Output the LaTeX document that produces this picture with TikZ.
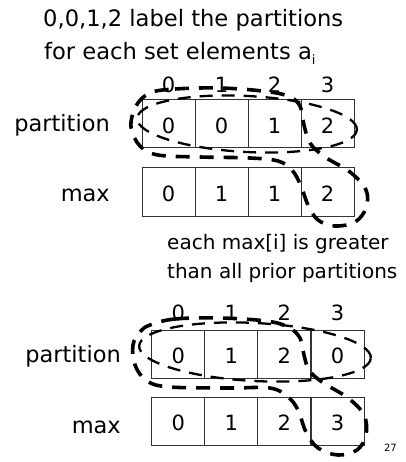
\documentclass[tikz,border=0pt]{standalone}
\usepackage{fontspec}
\setmainfont{DejaVu Sans}
\begin{document}
\begin{tikzpicture}
\useasboundingbox (0,0) rectangle (405pt,-462pt);
\begin{scope}[x=1pt,y=-1pt]
\tikzset{
  cell/.style={draw=black!80, line width=1pt, minimum width=53pt, minimum height=48pt, inner sep=0pt, text height=19pt, text depth=0pt, font=\fontsize{21}{21}\selectfont},
  idx/.style={anchor=base, inner sep=0pt, font=\fontsize{21}{21}\selectfont},
  rowlabel/.style={anchor=base east, inner sep=0pt, font=\fontsize{22.5}{22.5}\selectfont},
  title/.style={anchor=base west, inner sep=0pt, font=\fontsize{22.6}{22.6}\selectfont},
  note/.style={anchor=base west, inner sep=0pt, font=\fontsize{20}{20}\selectfont},
  thickdash/.style={line width=3.6pt, dash pattern=on 14pt off 10pt},
  thindash/.style={line width=2.3pt, dash pattern=on 13pt off 9pt}
}
% title
\node[title] (t1) at (43,27) {0,0,1,2 label the partitions};
\node[title] (t2) at (44,60) {for each set elements a\raisebox{-5pt}{\fontsize{13}{13}\selectfont i}};

% top example
\foreach \i/\x/\p/\m in {0/168.5/0/0, 1/221.5/0/1, 2/274.5/1/1, 3/327.5/2/2}{
  \node[idx] (ia\i) at (\x,93) {\i};
  \node[cell] (pa\i) at (\x,124) {\p};
  \node[cell] (ma\i) at (\x,192) {\m};
}
\node[rowlabel] (lpa) at (110,132) {partition};
\node[rowlabel] (lma) at (110,201.5) {max};
\node[note] (n1) at (167,249) {each max[i] is greater};
\node[note] (n2) at (167,278) {than all prior partitions};

\draw[thindash, rotate around={-3:(247,124)}] (247,124) ellipse [x radius=110pt, y radius=28pt];
\draw[thickdash] plot[smooth cycle, tension=0.6] coordinates {
 (150,93) (175,89) (220,88) (262,91) (288,96) (300,106) (304,125) (310,143)
 (325,157) (350,172) (366,190) (366,208) (355,222) (335,226) (318,220)
 (308,205) (301,186) (292,170) (278,161) (250,158) (200,157) (158,155)
 (140,146) (131,127) (136,106)};

% bottom example
\foreach \i/\x/\p/\m in {0/178.2/0/0, 1/231.3/1/1, 2/284.4/2/2, 3/337.5/0/3}{
  \node[idx] (ib\i) at (\x,320) {\i};
  \node[cell] (pb\i) at (\x,354) {\p};
  \node[cell] (mb\i) at (\x,421) {\m};
}
\node[rowlabel] (lpb) at (121,362) {partition};
\node[rowlabel] (lmb) at (121,433) {max};

\draw[thindash, rotate around={-3:(255,352)}] (255,352) ellipse [x radius=116pt, y radius=29pt];
\draw[thickdash] plot[smooth cycle, tension=0.6] coordinates {
 (150,325) (175,319) (220,318) (266,321) (288,327) (300,338) (304,355)
 (309,370) (322,382) (348,398) (364,415) (366,435) (357,450) (338,455)
 (318,448) (306,432) (298,410) (288,397) (270,388) (230,388) (170,387)
 (147,381) (135,365) (133,345) (140,332)};

\node[anchor=base east, inner sep=0pt, font=\fontsize{10}{10}\selectfont] (pg) at (397,451) {27};
\end{scope}
\end{tikzpicture}
\end{document}
